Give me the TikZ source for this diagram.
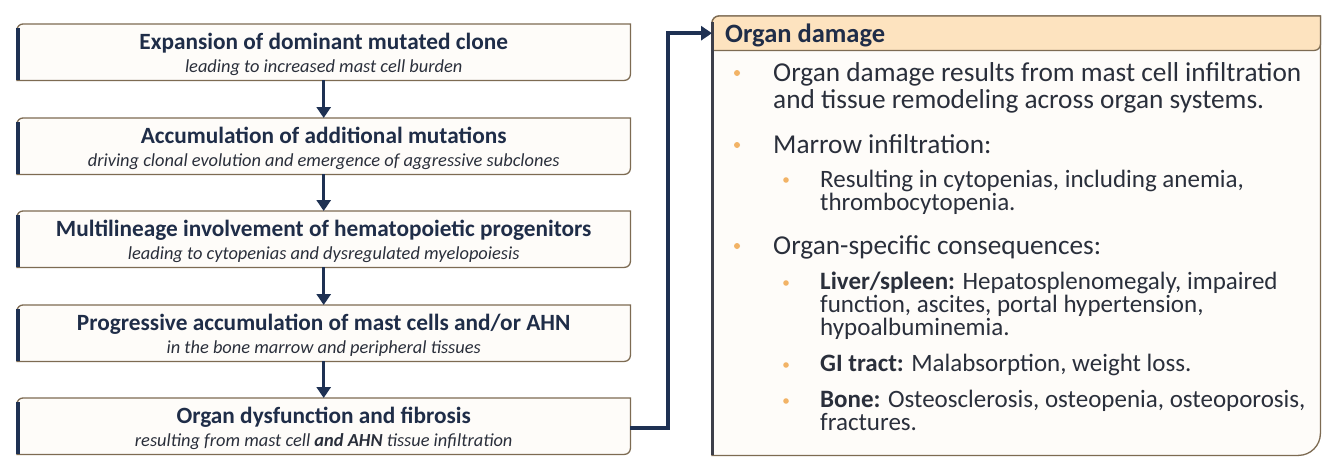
\documentclass[tikz,border=0pt]{standalone}
\usepackage{fontspec}
\setmainfont{Carlito}
\usetikzlibrary{arrows.meta,backgrounds,calc}
\definecolor{navy}{HTML}{1E3153}
\definecolor{ink}{HTML}{1F2D48}
\definecolor{bodyink}{HTML}{2A2F3B}
\definecolor{tanline}{HTML}{7D6B52}
\definecolor{cream}{HTML}{FEFCF9}
\definecolor{peach}{HTML}{FDE3BF}
\definecolor{bulletc}{HTML}{F2B366}
\definecolor{edgec}{HTML}{3D3F4A}
\newcommand\lframe[1]{%
  \filldraw[fill=cream,draw=tanline,line width=1.3pt] (#1.south west) -- ([yshift=-6pt]#1.north west) arc[start angle=180,end angle=90,radius=6pt] -- (#1.north east) -- ([yshift=6pt]#1.south east) arc[start angle=0,end angle=-90,radius=6pt] -- cycle;
  \draw[navy,line width=3.6pt] ([xshift=1pt]#1.south west) -- ([xshift=1pt,yshift=-4pt]#1.north west);}
\begin{document}
\begin{tikzpicture}[x=1pt,y=1pt,
  lbox/.style={minimum width=613pt,minimum height=56pt,inner sep=0pt,anchor=north west},
  ttl/.style={font=\fontsize{23.3}{26}\selectfont\bfseries,text=ink,anchor=base,inner sep=0pt},
  subt/.style={font=\fontsize{18.4}{21}\selectfont\itshape,text=bodyink,anchor=base,inner sep=0pt},
  flow/.style={draw=navy,line width=3.5pt,-{Triangle[width=14pt,length=11pt]}},
  mainl/.style={font=\fontsize{27.3}{27}\selectfont,text=bodyink,anchor=base west,inner sep=0pt},
  subl/.style={font=\fontsize{25}{23}\selectfont,text=bodyink,anchor=base west,inner sep=0pt},
  bdot/.style={fill=bulletc}]
\useasboundingbox (0,0) rectangle (1339,-466);

% left flow boxes
\node[lbox] (b1) at (17,-24) {};
\node[lbox] (b2) at (17,-118) {};
\node[lbox] (b3) at (17,-211) {};
\node[lbox] (b4) at (17,-305) {};
\node[lbox] (b5) at (17,-398) {};
\node[ttl] (t1) at ([yshift=-25pt]b1.north) {Expansion of dominant mutated clone};
\node[subt] (s1) at ([yshift=-48pt]b1.north) {leading to increased mast cell burden};
\node[ttl] (t2) at ([yshift=-25pt]b2.north) {Accumulation of additional mutations};
\node[subt] (s2) at ([yshift=-48pt]b2.north) {driving clonal evolution and emergence of aggressive subclones};
\node[ttl] (t3) at ([yshift=-25pt]b3.north) {Multilineage involvement of hematopoietic progenitors};
\node[subt] (s3) at ([yshift=-48pt]b3.north) {leading to cytopenias and dysregulated myelopoiesis};
\node[ttl] (t4) at ([yshift=-25pt]b4.north) {Progressive accumulation of mast cells and/or AHN};
\node[subt] (s4) at ([yshift=-48pt]b4.north) {in the bone marrow and peripheral tissues};
\node[ttl] (t5) at ([yshift=-25pt]b5.north) {Organ dysfunction and fibrosis};
\node[subt] (s5) at ([yshift=-48pt]b5.north) {resulting from mast cell \textbf{and AHN} tissue infiltration};

% right panel
\node[anchor=north west,minimum width=608pt,minimum height=439pt,inner sep=0pt] (pan) at (712,-16) {};
\node[anchor=north west,minimum width=608pt,minimum height=34pt,inner sep=0pt] (hdr) at (712,-16) {};
\node[font=\fontsize{26.5}{28}\selectfont\bfseries,text=ink,anchor=base west,inner sep=0pt] (ht) at (725,-42) {Organ damage};

\node[mainl] (m1a) at (773,-81) {Organ damage results from mast cell infiltration};
\node[mainl] (m1b) at (773,-108) {and tissue remodeling across organ systems.};
\node[mainl] (m2) at (773,-153) {Marrow infiltration:};
\node[subl] (r1a) at (820,-187) {Resulting in cytopenias, including anemia,};
\node[subl] (r1b) at (820,-210) {thrombocytopenia.};
\node[mainl] (m3) at (773,-254) {Organ-specific consequences:};
\node[subl] (l1) at (820,-289) {\textbf{Liver/spleen:} Hepatosplenomegaly, impaired};
\node[subl] (l2) at (820,-312) {function, ascites, portal hypertension,};
\node[subl] (l3) at (820,-335) {hypoalbuminemia.};
\node[subl] (g1) at (820,-371) {\textbf{GI tract:} Malabsorption, weight loss.};
\node[subl] (o1) at (820,-407) {\textbf{Bone:} Osteosclerosis, osteopenia, osteoporosis,};
\node[subl] (o2) at (820,-430) {fractures.};

\fill[bdot] (737,-73) circle (3pt);
\fill[bdot] (737,-145) circle (3pt);
\fill[bdot] (786,-180) circle (2.8pt);
\fill[bdot] (737,-246) circle (3pt);
\fill[bdot] (786,-283) circle (2.8pt);
\fill[bdot] (786,-365) circle (2.8pt);
\fill[bdot] (786,-401) circle (2.8pt);

\begin{scope}[on background layer]
  \fill[white] (0,0) rectangle (1339,-466);
  \lframe{b1}\lframe{b2}\lframe{b3}\lframe{b4}\lframe{b5}
  \filldraw[fill=cream,draw=tanline,line width=1.3pt] (pan.south west) -- ([yshift=-7pt]pan.north west) arc[start angle=180,end angle=90,radius=7pt] -- (pan.north east) -- ([yshift=22pt]pan.south east) arc[start angle=0,end angle=-90,radius=22pt] -- cycle;
  \filldraw[fill=peach,draw=tanline,line width=1.3pt] (hdr.south west) -- ([yshift=-7pt]hdr.north west) arc[start angle=180,end angle=90,radius=7pt] -- (hdr.north east) -- ([yshift=6pt]hdr.south east) arc[start angle=0,end angle=-90,radius=6pt] -- cycle;
  \draw[edgec,line width=2.2pt] ([xshift=0.5pt]pan.south west) -- ([xshift=0.5pt,yshift=-6pt]pan.north west);
\end{scope}

% connectors
\draw[flow] (b1.south) -- (b2.north);
\draw[flow] (b2.south) -- (b3.north);
\draw[flow] (b3.south) -- (b4.north);
\draw[flow] (b4.south) -- (b5.north);
\draw[navy,line width=4pt,-{Triangle[width=14pt,length=11pt]}] ([yshift=-2pt]b5.east) -- ++(38pt,0) |- (hdr.west);
\end{tikzpicture}
\end{document}
